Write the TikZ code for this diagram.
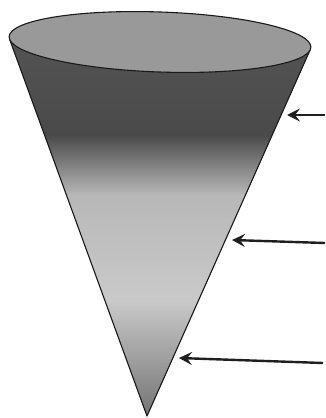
\documentclass[tikz,border=0pt]{standalone}
\usetikzlibrary{arrows.meta}
\tikzset{
  coneedge/.style={draw=black!90, line width=1.1pt, line join=round},
  pointer/.style={draw=black!88, line width=2.4pt, -{Stealth[length=13pt,width=13pt,inset=5pt]}},
}
\begin{document}
\begin{tikzpicture}[x=1pt,y=-1pt]
\useasboundingbox (0,0) rectangle (325,418);
% key points
\coordinate (L) at (9.8,39.75);
\coordinate (R) at (310,50.2);
\coordinate (A) at (147,416);
\coordinate (C) at (160,42);
% body shading
\begin{scope}
  \clip (L) -- (A) -- (R) -- cycle;
  \fill[top color=black!67, bottom color=black!71] (0,30) rectangle (325,135);
  \fill[top color=black!71, bottom color=black!28] (0,135) rectangle (325,195);
  \fill[top color=black!28, bottom color=black!21] (0,195) rectangle (325,300);
  \fill[top color=black!21, bottom color=black!55] (0,300) rectangle (325,418);
\end{scope}
\draw[coneedge] (L) -- (A) -- (R);
% open top
\draw[coneedge, fill=black!40, rotate around={-2:(C)}] (C) ellipse [x radius=151, y radius=30];
% arrows
\coordinate (t1) at (325,115);
\coordinate (h1) at (287,115);
\coordinate (t2) at (325,243);
\coordinate (h2) at (232,240);
\coordinate (t3) at (323,363);
\coordinate (h3) at (179,358);
\draw[pointer] (t1) -- (h1);
\draw[pointer] (t2) -- (h2);
\draw[pointer] (t3) -- (h3);
\end{tikzpicture}
\end{document}
